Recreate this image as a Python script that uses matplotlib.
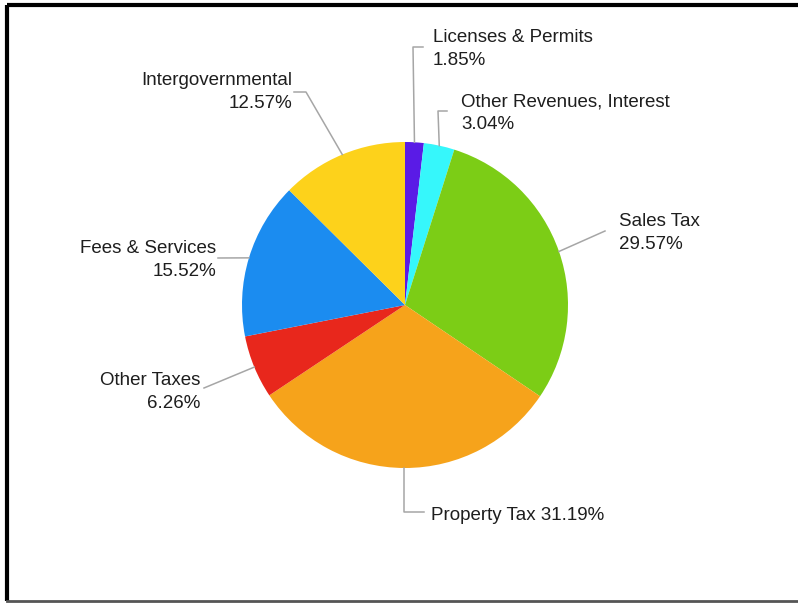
"""Revenue share pie with outside labels and leader lines."""

import numpy as np
import matplotlib.pyplot as plt

W, H = 798, 604

categories = ["Licenses & Permits", "Other Revenues, Interest", "Sales Tax",
              "Property Tax", "Other Taxes", "Fees & Services", "Intergovernmental"]
shares = [1.85, 3.04, 29.57, 31.19, 6.26, 15.52, 12.57]
colors = ["#5a1be6", "#36f7fb", "#7ccd16", "#f6a31b", "#e8271c", "#1b8cf0", "#fdd21b"]

# label layout, in pixel units from the top-left corner
label_pos = [(433, 49), (461, 113), (619, 233), (431, 515), (200, 392), (216, 260), (292, 92)]
label_ha = ["left", "left", "left", "left", "right", "right", "right"]
elbows = [[(413, 47), (423, 47)], [(438, 111), (447, 111)], [(605, 231)],
          [(None, 512), (424, 512)], [(204, 388)], [(218, 258)], [(306, 92), (294, 92)]]

CX, CY, R = 405, 305, 163

plt.rcParams["font.family"] = ["Liberation Sans", "DejaVu Sans"]

fig = plt.figure(figsize=(W / 100, H / 100), dpi=100)
ax = fig.add_axes([0, 0, 1, 1])


def py(y):
    return H - y


wedges, _ = ax.pie(shares, colors=colors, startangle=90, counterclock=False,
                   center=(CX, py(CY)), radius=R, frame=True,
                   wedgeprops={"linewidth": 0})
ax.set_xlim(0, W)
ax.set_ylim(0, H)
ax.axis("off")

for w, name, val, (tx, ty), ha, pts in zip(wedges, categories, shares,
                                            label_pos, label_ha, elbows):
    mid = np.deg2rad((w.theta1 + w.theta2) / 2)
    ex, ey = CX + R * np.cos(mid), CY - R * np.sin(mid)
    xs, ys = [ex], [ey]
    for px, pyy in pts:
        xs.append(ex if px is None else px)
        ys.append(pyy)
    ax.plot(xs, [py(v) for v in ys], color="#a6a6a6", linewidth=1.1)
    if name == "Property Tax":
        text = f"{name} {val:.2f}%"
    else:
        text = f"{name}\n{val:.2f}%"
    ax.text(tx, py(ty), text, ha=ha, va="center", multialignment=ha,
            fontsize=13.5, color="#1e1e1e", linespacing=1.45)

# outer frame
ax.plot([7, W], [py(5), py(5)], color="black", linewidth=3, solid_capstyle="butt")
ax.plot([7, 7], [py(5), py(601)], color="black", linewidth=3, solid_capstyle="butt")
ax.plot([7, W], [py(601), py(601)], color="#555555", linewidth=2)

fig.savefig("out.png", dpi=100)
